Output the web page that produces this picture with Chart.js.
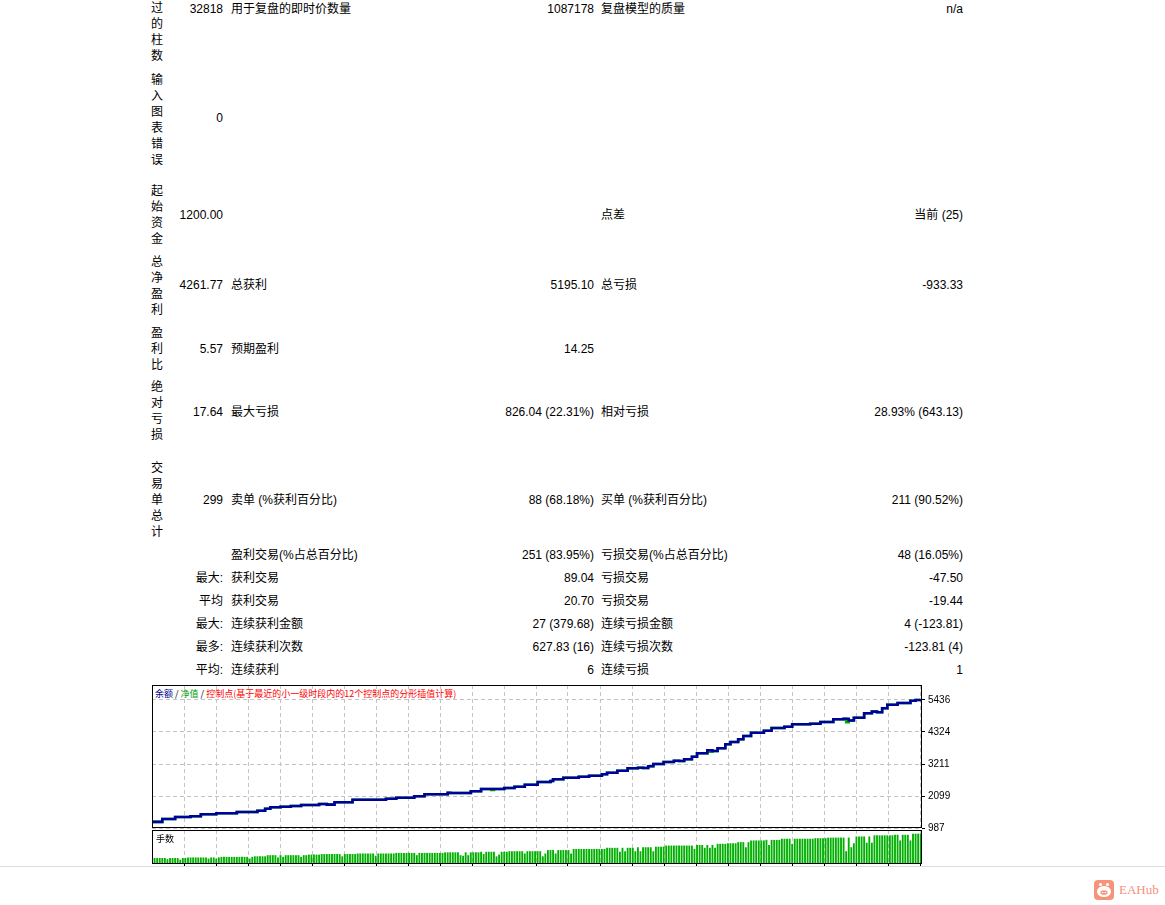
<!DOCTYPE html>
<html><head><meta charset="utf-8">
<script src="https://cdn.jsdelivr.net/npm/chart.js@4.4.0/dist/chart.umd.min.js"></script>
<style>
html,body{margin:0;padding:0;background:#fff;}
body{width:1165px;height:905px;position:relative;overflow:hidden;font-family:"Liberation Sans","Noto Sans CJK SC",sans-serif;font-size:12px;color:#000;}
.t{position:absolute;line-height:16px;white-space:nowrap;}
.v{position:absolute;left:151px;width:13px;line-height:16px;white-space:normal;word-break:break-all;}
canvas{position:absolute;}
#legend{position:absolute;left:155px;top:688px;font-family:"Noto Sans CJK SC",sans-serif;font-size:9px;line-height:12px;white-space:nowrap;}
#vol{position:absolute;left:156px;top:833px;font-family:"Noto Sans CJK SC",sans-serif;font-size:9px;line-height:12px;}
#hr{position:absolute;left:0;top:866px;width:1165px;height:1px;background:#dcdcdc;}
#logo{position:absolute;left:1094px;top:880px;}
#logotxt{position:absolute;left:1119px;top:881px;font-family:"Liberation Serif",serif;font-size:13px;line-height:18px;color:#f4917a;}
</style></head><body>

<div class="v" style="top:0px">过的柱数</div>
<div class="v" style="top:72px">输入图表错误</div>
<div class="v" style="top:183px">起始资金</div>
<div class="v" style="top:254px">总净盈利</div>
<div class="v" style="top:325px">盈利比</div>
<div class="v" style="top:379px">绝对亏损</div>
<div class="v" style="top:460px">交易单总计</div>

<div id="rows"></div>

<div id="legend"><span style="color:#00008b">余额</span> / <span style="color:#00a000">净值</span> / <span style="color:#ff0000">控制点(基于最近的小一级时段内的12个控制点的分形插值计算)</span></div>
<canvas id="main" width="810" height="163" style="left:152px;top:675px"></canvas>
<canvas id="volc" width="770" height="39" style="left:152px;top:829px"></canvas>
<div id="vol">手数</div>
<div id="hr"></div>
<svg id="logo" width="20" height="20" viewBox="0 0 20 20">
  <rect x="0" y="0" width="20" height="20" rx="4" fill="#f8937b"/>
  <circle cx="6.5" cy="4.5" r="1.6" fill="#fff"/>
  <circle cx="13.5" cy="4.5" r="1.6" fill="#fff"/>
  <ellipse cx="10" cy="11.5" rx="7" ry="5.5" fill="#fff"/>
  <ellipse cx="10" cy="12.5" rx="3.6" ry="2.3" fill="#f8937b"/>
  <circle cx="8.7" cy="12.5" r="0.8" fill="#fff"/>
  <circle cx="11.3" cy="12.5" r="0.8" fill="#fff"/>
</svg>
<div id="logotxt">EAHub</div>

<script>
// ---- report rows: [centerY, leftLabel(right@223), label(left@231), value(right@594), label(left@601), value(right@963)]
const reportRows = [
  [8.5, '32818', '用于复盘的即时价数量', '1087178', '复盘模型的质量', 'n/a'],
  [118, '0', '', '', '', ''],
  [214.5, '1200.00', '', '', '点差', '当前 (25)'],
  [285, '4261.77', '总获利', '5195.10', '总亏损', '-933.33'],
  [348.5, '5.57', '预期盈利', '14.25', '', ''],
  [411.5, '17.64', '最大亏损', '826.04 (22.31%)', '相对亏损', '28.93% (643.13)'],
  [500, '299', '卖单 (%获利百分比)', '88 (68.18%)', '买单 (%获利百分比)', '211 (90.52%)'],
  [555, '', '盈利交易(%占总百分比)', '251 (83.95%)', '亏损交易(%占总百分比)', '48 (16.05%)'],
  [578, '最大:', '获利交易', '89.04', '亏损交易', '-47.50'],
  [601, '平均', '获利交易', '20.70', '亏损交易', '-19.44'],
  [624, '最大:', '连续获利金额', '27 (379.68)', '连续亏损金额', '4 (-123.81)'],
  [647, '最多:', '连续获利次数', '627.83 (16)', '连续亏损次数', '-123.81 (4)'],
  [670, '平均:', '连续获利', '6', '连续亏损', '1']
];

// ---- chart data
const balanceTrades = [0,4,9,15,19,25,33,41,44,46,50,54,58,65,68,71,78,91,95,102,106,115,116,124,128,137,141,145,150,155,156,160,166,170,175,177,181,185,189,191,193,195,199,203,205,207,210,212,216,218,220,223,225,228,230,233,238,241,246,249,256,260,265,269,271,273,277,280,282,284,286,290,295,297,299];
const balanceValues = [1200,1300,1370,1395,1463,1498,1543,1588,1658,1707,1727,1752,1786,1821,1800,1880,1971,2005,2040,2089,2158,2214,2204,2263,2343,2377,2423,2492,2586,2621,2680,2735,2770,2805,2854,2909,2979,3062,3083,3072,3132,3212,3281,3326,3316,3375,3465,3584,3688,3663,3757,3896,3976,4070,4185,4300,4369,4463,4508,4592,4612,4671,4765,4786,4724,4821,4974,5030,5010,5148,5273,5332,5412,5436,5462];
const equityDipTrades = [132, 217, 270];
const equityDipValues = [2310, 3640, 4660];
const lots = [
0.10,0.10,0.10,0.10,0.10,0.08,0.10,0.10,0.10,0.10,0.07,0.10,0.10,0.11,0.11,0.11,0.11,0.11,0.11,0.11,
0.11,0.09,0.11,0.11,0.09,0.11,0.12,0.12,0.12,0.12,0.12,0.12,0.12,0.12,0.12,0.12,0.12,0.09,0.12,0.13,
0.13,0.13,0.13,0.13,0.15,0.15,0.15,0.15,0.11,0.15,0.12,0.15,0.15,0.15,0.15,0.15,0.15,0.12,0.15,0.15,
0.16,0.16,0.16,0.16,0.16,0.17,0.17,0.17,0.17,0.17,0.17,0.17,0.17,0.13,0.17,0.17,0.17,0.17,0.17,0.18,
0.18,0.18,0.18,0.18,0.18,0.18,0.14,0.18,0.18,0.18,0.18,0.18,0.18,0.18,0.19,0.19,0.19,0.19,0.19,0.19,
0.19,0.19,0.15,0.19,0.19,0.19,0.19,0.19,0.19,0.19,0.19,0.19,0.19,0.20,0.20,0.20,0.20,0.20,0.20,0.15,
0.14,0.20,0.15,0.20,0.20,0.20,0.20,0.21,0.17,0.21,0.21,0.21,0.21,0.13,0.16,0.21,0.21,0.21,0.22,0.22,
0.22,0.22,0.22,0.22,0.18,0.22,0.22,0.22,0.22,0.22,0.22,0.13,0.18,0.24,0.24,0.24,0.18,0.24,0.24,0.24,
0.24,0.24,0.18,0.26,0.26,0.26,0.26,0.26,0.26,0.26,0.26,0.26,0.26,0.26,0.26,0.26,0.28,0.28,0.28,0.28,
0.28,0.21,0.28,0.22,0.28,0.28,0.28,0.22,0.29,0.22,0.29,0.29,0.29,0.29,0.22,0.30,0.30,0.30,0.30,0.32,
0.32,0.32,0.32,0.32,0.32,0.32,0.32,0.32,0.32,0.32,0.26,0.33,0.33,0.33,0.28,0.33,0.28,0.33,0.28,0.35,
0.35,0.35,0.35,0.36,0.36,0.36,0.36,0.38,0.38,0.38,0.29,0.38,0.41,0.41,0.41,0.41,0.41,0.41,0.42,0.33,
0.42,0.42,0.42,0.42,0.44,0.44,0.44,0.44,0.35,0.44,0.44,0.44,0.44,0.44,0.44,0.44,0.44,0.45,0.45,0.45,
0.45,0.45,0.46,0.46,0.46,0.46,0.46,0.46,0.46,0.22,0.46,0.29,0.36,0.48,0.48,0.48,0.48,0.37,0.48,0.37,
0.50,0.50,0.50,0.50,0.50,0.50,0.50,0.50,0.51,0.51,0.41,0.51,0.51,0.51,0.41,0.53,0.53,0.53,0.53
];
const yTickValues = [987, 2099, 3211, 4324, 5436];
const yTickLabels = ['987', '2099', '3211', '4324', '5436'];
const yMin = 987, yMax = 5957;
const xMin = 0, xMax = 299.5;

// ---- report text
const rowsEl = document.getElementById('rows');
function addText(txt, y, x, alignRight) {
  if (!txt) return;
  const d = document.createElement('div');
  d.className = 't';
  d.textContent = txt;
  d.style.top = (y - 8) + 'px';
  if (alignRight) d.style.right = (1165 - x) + 'px'; else d.style.left = x + 'px';
  rowsEl.appendChild(d);
}
reportRows.forEach(r => {
  addText(r[1], r[0], 223, true);
  addText(r[2], r[0], 231, false);
  addText(r[3], r[0], 594, true);
  addText(r[4], r[0], 601, false);
  addText(r[5], r[0], 963, true);
});

// ---- chart helpers
const gridColor = '#c4c4c4';
const plotWidthPx = 770;
function xGridTicks(scale) {
  const ticks = [];
  for (let k = 1; 32 * k < plotWidthPx; k++) ticks.push({value: xMin + (32 * k) / plotWidthPx * (xMax - xMin)});
  scale.ticks = ticks;
}
const boxPlugin = {
  id: 'box',
  afterDraw(c) {
    const a = c.chartArea, ctx = c.ctx;
    ctx.save();
    ctx.strokeStyle = '#000';
    ctx.lineWidth = 1;
    ctx.setLineDash([]);
    ctx.strokeRect(Math.round(a.left) + 0.5, Math.round(a.top) + 0.5, Math.round(a.right - a.left) - 1, Math.round(a.bottom - a.top) - 1);
    ctx.restore();
  }
};

function balanceAt(t) {
  let v = balanceValues[0];
  for (let i = 0; i < balanceTrades.length; i++) if (balanceTrades[i] <= t) v = balanceValues[i];
  return v;
}
const balancePts = balanceTrades.map((t, i) => ({x: t, y: balanceValues[i]}));
const equityPts = balancePts.slice();
equityDipTrades.forEach((t, i) => {
  equityPts.push({x: t, y: equityDipValues[i]});
  equityPts.push({x: t + 1, y: balanceAt(t + 1)});
});
equityPts.sort((a, b) => a.x - b.x);

new Chart(document.getElementById('main'), {
  type: 'line',
  data: {
    datasets: [
      {label: '余额', data: balancePts, borderColor: '#00009c', borderWidth: 2.6, pointRadius: 0, stepped: true, tension: 0, fill: false},
      {label: '净值', data: equityPts, borderColor: '#00b000', borderWidth: 2.6, pointRadius: 0, stepped: true, tension: 0, fill: false}
    ]
  },
  options: {
    responsive: false, animation: false, maintainAspectRatio: false,
    layout: {padding: {top: 10, bottom: 10, left: 0, right: 0}},
    plugins: {legend: {display: false}, tooltip: {enabled: false}},
    scales: {
      x: {
        type: 'linear', min: xMin, max: xMax, offset: false,
        afterBuildTicks: xGridTicks,
        afterFit: s => { s.height = 0; },
        ticks: {display: false},
        grid: {color: gridColor, drawTicks: false, offset: false},
        border: {display: false, dash: [4, 3]}
      },
      y: {
        type: 'linear', position: 'right', min: yMin, max: yMax,
        afterBuildTicks: s => { s.ticks = yTickValues.map(v => ({value: v})); },
        afterFit: s => { s.width = 40; },
        ticks: {callback: (v, i) => yTickLabels[i], color: '#000', padding: 3, font: {family: 'Liberation Sans', size: 10}},
        grid: {color: gridColor, drawTicks: true, tickLength: 3, tickColor: '#000', tickBorderDash: []},
        border: {display: false, dash: [4, 3]}
      }
    }
  },
  plugins: [boxPlugin]
});

new Chart(document.getElementById('volc'), {
  type: 'bar',
  data: {
    datasets: [{label: '手数', data: lots.map((v, i) => ({x: i + 1, y: v})), backgroundColor: '#00b000', borderWidth: 0, barThickness: 1.2}]
  },
  options: {
    responsive: false, animation: false, maintainAspectRatio: false,
    layout: {padding: {top: 1, bottom: 0, left: 0, right: 0}},
    plugins: {legend: {display: false}, tooltip: {enabled: false}},
    scales: {
      x: {
        type: 'linear', min: xMin, max: xMax, offset: false,
        afterBuildTicks: xGridTicks,
        afterFit: s => { s.height = 4; },
        ticks: {display: false},
        grid: {color: gridColor, drawTicks: true, tickLength: 2, tickColor: '#000', tickBorderDash: [], offset: false},
        border: {display: false, dash: [4, 3]}
      },
      y: {display: false, min: 0, max: 0.6}
    }
  },
  plugins: [boxPlugin]
});
</script>
</body></html>
